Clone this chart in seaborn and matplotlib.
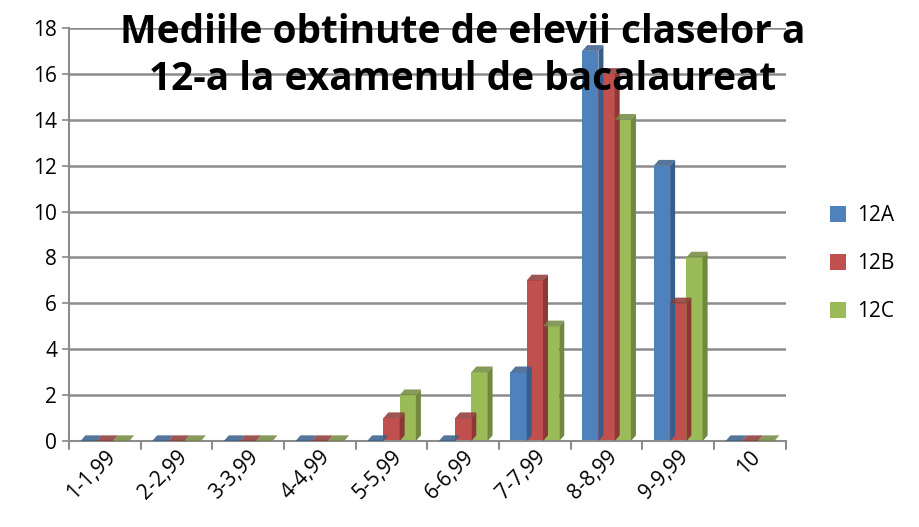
import pandas as pd
import matplotlib.pyplot as plt
import seaborn as sns
from matplotlib.patches import Polygon

# Date: numarul de elevi pe intervale de medii
intervale = ["1-1,99", "2-2,99", "3-3,99", "4-4,99", "5-5,99",
             "6-6,99", "7-7,99", "8-8,99", "9-9,99", "10"]
clase = ["12A", "12B", "12C"]
elevi_12A = [0, 0, 0, 0, 0, 0, 3, 17, 12, 0]
elevi_12B = [0, 0, 0, 0, 1, 1, 7, 16, 6, 0]
elevi_12C = [0, 0, 0, 0, 2, 3, 5, 14, 8, 0]
culori = ["#4F81BD", "#C0504D", "#9BBB59"]
culori_umbra = ["#385D8A", "#8C3836", "#71893F"]

sns.set_theme(style="white")
plt.rcParams['font.family'] = ['Open Sans', 'DejaVu Sans']
plt.rcParams['text.color'] = 'black'
plt.rcParams['xtick.color'] = 'black'
plt.rcParams['ytick.color'] = 'black'

df = pd.DataFrame({
    "interval": intervale * 3,
    "clasa": [c for c in clase for _ in intervale],
    "elevi": elevi_12A + elevi_12B + elevi_12C,
})

fig = plt.figure(figsize=(9.19, 5.27), dpi=100)
ax = fig.add_axes([0.075, 0.163, 0.78, 0.784])

for y in range(0, 19, 2):
    ax.axhline(y, color="#8C8C8C", lw=1.8, zorder=0)

sns.barplot(data=df, x="interval", y="elevi", hue="clasa", palette=culori,
            width=0.68, gap=0, saturation=1, linewidth=0, ax=ax, zorder=2, legend=True)

# fete laterale si superioare pentru aspectul 3D
dx, dy = 0.07, 0.25
for container, umbra in zip(ax.containers, culori_umbra):
    for p in container:
        x0, w, h = p.get_x(), p.get_width(), p.get_height()
        x1 = x0 + w
        ax.add_patch(Polygon([(x1, 0), (x1 + dx, dy), (x1 + dx, h + dy), (x1, h)],
                             closed=True, fc=umbra, ec="none", zorder=3))
        ax.add_patch(Polygon([(x0, h), (x0 + dx, h + dy), (x1 + dx, h + dy), (x1, h)],
                             closed=True, fc=umbra, ec="none", zorder=3, alpha=0.85))

ax.set_ylim(0, 18)
ax.set_xlim(-0.5, 9.5)
ax.set_yticks(range(0, 19, 2))
ax.set_xlabel("")
ax.set_ylabel("")
ax.tick_params(axis="y", labelsize=15, length=5, color="#8C8C8C", left=True)
ax.tick_params(axis="x", labelsize=15, length=0, pad=4)
plt.setp(ax.get_xticklabels(), rotation=45, ha="right", rotation_mode="anchor")
for s in ["top", "right"]:
    ax.spines[s].set_visible(False)
for s in ["left", "bottom"]:
    ax.spines[s].set_color("#8C8C8C")
    ax.spines[s].set_linewidth(1.5)
for i in range(11):
    ax.plot([i - 0.5, i - 0.5], [0, -0.35], color="#8C8C8C", lw=1.5, clip_on=False)

leg = ax.legend(loc="center left", bbox_to_anchor=(1.035, 0.43), frameon=False,
                fontsize=15, handlelength=0.8, handleheight=0.8, labelspacing=1.3,
                handletextpad=0.5)

fig.text(0.503, 0.975, "Mediile obtinute de elevii claselor a\n12-a la examenul de bacalaureat",
         ha="center", va="top", fontsize=28, fontweight="bold", linespacing=1.25)

fig.savefig("out.png", dpi=100)
